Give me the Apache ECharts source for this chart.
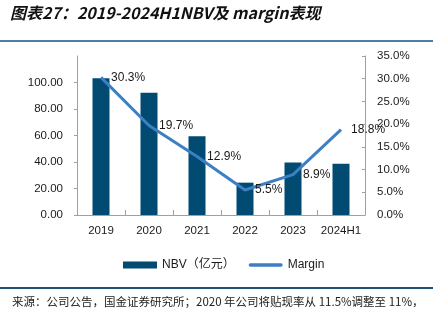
<!DOCTYPE html>
<html>
<head>
<meta charset="utf-8">
<script src="https://cdn.jsdelivr.net/npm/echarts@6/dist/echarts.min.js"></script>
<style>
html,body{margin:0;padding:0;background:#fff;}
#chart{width:437px;height:321px;}
</style>
</head>
<body>
<div id="chart"></div>
<script>
// Categories and series
var years = ['2019', '2020', '2021', '2022', '2023', '2024H1'];
var nbv = [103.2, 92.2, 59.5, 24.4, 39.6, 38.6];          // NBV (亿元)
var margin = [0.303, 0.197, 0.129, 0.055, 0.089, 0.188];  // margin ratio

var titleText = '图表27：2019-2024H1NBV及 margin表现';
var sourceText = '来源：公司公告，国金证券研究所；2020 年公司将贴现率从 11.5%调整至 11%，';

var axisGray = '#a0a0a0';
var txt = '#1a1a1a';
var fontFam = '"Liberation Sans", Arial, "Noto Sans CJK SC", sans-serif';

var chart = echarts.init(document.getElementById('chart'), null, {renderer: 'canvas'});
chart.setOption({
  animation: false,
  backgroundColor: '#fff',
  textStyle: {fontFamily: fontFam},
  grid: {left: 77, right: 72, top: 56, bottom: 106},
  legend: {
    top: 254,
    left: 118,
    itemGap: 14,
    itemWidth: 34,
    itemHeight: 7,
    textStyle: {fontSize: 12, color: txt, fontFamily: fontFam},
    data: [
      {name: 'NBV（亿元）', icon: 'rect'},
      {name: 'Margin', icon: 'path://M2,0 L38,0 A2,2 0 0 1 38,4 L2,4 A2,2 0 0 1 2,0 Z', itemStyle: {color: '#3d7fc5'}}
    ]
  },
  xAxis: {
    type: 'category',
    data: years,
    axisLine: {lineStyle: {color: axisGray, width: 1}},
    axisTick: {show: true, inside: true, length: 5, lineStyle: {color: axisGray}},
    axisLabel: {color: txt, fontSize: 11.5, margin: 10, interval: 0}
  },
  yAxis: [
    {
      type: 'value',
      min: 0, max: 120, interval: 20,
      axisLine: {show: true, lineStyle: {color: axisGray}},
      axisTick: {show: true, length: 3, lineStyle: {color: axisGray}},
      splitLine: {show: false},
      axisLabel: {
        color: txt, fontSize: 11.5, margin: 14,
        showMaxLabel: false,
        formatter: function (v) { return v.toFixed(2); }
      }
    },
    {
      type: 'value',
      min: 0, max: 0.35, interval: 0.05,
      axisLine: {show: true, lineStyle: {color: axisGray}},
      axisTick: {show: true, inside: true, length: 3, lineStyle: {color: axisGray}},
      splitLine: {show: false},
      axisLabel: {
        color: txt, fontSize: 11.5, margin: 12,
        formatter: function (v) { return (v * 100).toFixed(1) + '%'; }
      }
    }
  ],
  series: [
    {
      name: 'NBV（亿元）',
      type: 'bar',
      data: nbv,
      barWidth: 17,
      itemStyle: {color: '#014a72'}
    },
    {
      name: 'Margin',
      type: 'line',
      yAxisIndex: 1,
      data: margin,
      symbol: 'circle',
      symbolSize: 0.1,
      showSymbol: true,
      lineStyle: {color: '#3d7fc5', width: 3},
      itemStyle: {color: '#3d7fc5'},
      labelLayout: {hideOverlap: false},
      label: {
        show: true,
        position: 'right',
        distance: 10,
        color: txt,
        fontSize: 12,
        formatter: function (p) { return (p.value * 100).toFixed(1) + '%'; }
      },
      z: 3
    }
  ],
  graphic: [
    {
      type: 'text', left: 10, top: 5,
      style: {
        text: titleText,
        font: 'italic bold 16px "Noto Sans CJK SC", sans-serif',
        fill: '#111'
      }
    },
    {
      type: 'rect', left: 0, top: 40,
      shape: {width: 433, height: 2},
      style: {fill: '#4c7fa6'}
    },
    {
      type: 'rect', left: 0, top: 287,
      shape: {width: 433, height: 2},
      style: {fill: '#1e4f75'}
    },
    {
      type: 'text', left: 12, top: 296,
      style: {
        text: sourceText,
        font: '11.5px "Noto Sans CJK SC", sans-serif',
        fill: '#222'
      }
    }
  ]
});
</script>
</body>
</html>
